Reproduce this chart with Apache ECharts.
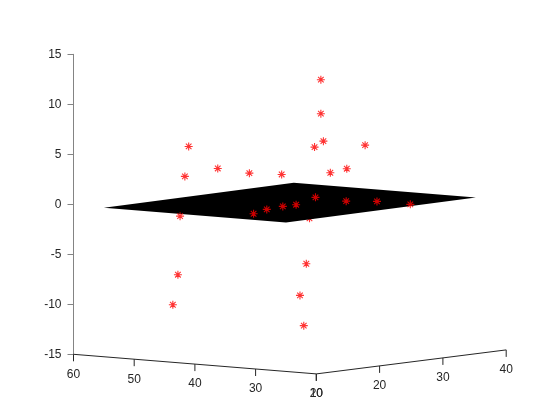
<!DOCTYPE html>
<html>
<head>
<meta charset="utf-8">
<script src="https://cdn.jsdelivr.net/npm/echarts@6/dist/echarts.min.js"></script>
<style>
html, body { margin: 0; background: #fff; }
#chart { width: 560px; height: 420px; }
</style>
</head>
<body>
<div id="chart"></div>
<script>
// Puntos de datos (x = eje derecho del suelo, y = eje izquierdo, z = vertical)
const ptX = [29.9, 29.9, 30.3, 28.9, 27.3, 23.4, 22.8, 23.2, 23.4, 28.5, 26.6, 29.2, 23.0,
             13.9, 18.0, 21.3, 23.4, 30.2, 29.2, 30.9, 30.7, 32.9, 27.6, 21.7, 20.9, 26.6, 27.2];
const ptY = [40, 40, 40, 40, 30, 55, 55, 50, 45, 45, 35, 35, 56,
             34.4, 36.5, 37.3, 37.3, 41.2, 35.1, 31.8, 26.1, 45, 40, 55, 55, 40, 40];
const ptZ = [11.85, 8.45, 5.67, 5.19, 6.0, 4.96, 2.01, 3.02, 2.78, 2.24, 3.05, 3.25, -2.03,
             0, 0, 0, 0, 0, 0, 0, 0, -2.5, -6.37, -7.73, -10.67, -9.46, -12.53];

// Esquinas del plano ajustado
const planeX = [10, 10, 40, 40];
const planeY = [25, 55, 55, 25];
const planeZ = [-0.1, -0.1, 0, 0];

// Marcas de los ejes
const xTicks = [10, 20, 30, 40];
const yTicks = [20, 30, 40, 50, 60];
const zMin = -15, zMax = 15, zStep = 5;

// Vista: proyecta (x, y, z) al plano de la grilla (px a la derecha del eje z, unidades z hacia arriba)
function proj(x, y, z) {
    const t = x - 10, s = 60 - y;
    return [6.33 * t + 6.07 * s, z + 0.08 * t - 0.049 * s];
}

const xLo = Math.min(...planeX), xHi = Math.max(...planeX);
const yLo = Math.min(...planeY), yHi = Math.max(...planeY);
const zPlane = Math.min(...planeZ);

// Separando los puntos tapados por el plano
const front = [], behind = [];
ptX.forEach((x, i) => {
    const p = proj(x, ptY[i], ptZ[i]);
    const hidden = x >= xLo && x <= xHi && ptY[i] >= yLo && ptY[i] <= yHi && ptZ[i] < zPlane;
    (hidden ? behind : front).push(p);
});

const tickData = [];
const tickText = [];
yTicks.forEach(v => { tickData.push(proj(10, v, zMin)); tickText.push(v); });
xTicks.forEach(v => { tickData.push(proj(v, 20, zMin)); tickText.push(v); });

const star = 'path://M5,0L5,10M0,5L10,5M1.5,1.5L8.5,8.5M1.5,8.5L8.5,1.5';
const font = '12px "Liberation Sans", Arial, sans-serif';

let myChart = echarts.init(document.getElementById('chart'));
myChart.setOption({
    animation: false,
    backgroundColor: '#fff',
    grid: { left: 73.5, top: 54.3, width: 440, height: 300 },
    xAxis: { type: 'value', min: 0, max: 440, show: false },
    yAxis: {
        type: 'value',
        min: zMin,
        max: zMax,
        interval: zStep,
        axisLine: { show: true, lineStyle: { color: '#848484', width: 1 } },
        axisTick: { show: true, length: 6, lineStyle: { color: '#848484' } },
        axisLabel: { color: '#262626', fontSize: 12, fontFamily: '"Liberation Sans", Arial', margin: 12 },
        splitLine: { show: false }
    },
    series: [
        {
            type: 'line',
            silent: true,
            clip: false,
            symbol: 'none',
            z: 1,
            lineStyle: { color: '#262626', width: 1 },
            data: [proj(10, 60, zMin), proj(10, 20, zMin), proj(40, 20, zMin)]
        },
        {
            type: 'custom',
            silent: true,
            z: 1,
            data: tickData,
            renderItem: function (params, api) {
                const p = api.coord([api.value(0), api.value(1)]);
                return {
                    type: 'group',
                    children: [
                        { type: 'line', shape: { x1: p[0], y1: p[1], x2: p[0], y2: p[1] + 7 },
                          style: { stroke: '#262626', lineWidth: 1 } },
                        { type: 'text', x: p[0], y: p[1] + 20,
                          style: { text: String(tickText[params.dataIndex]), fill: '#262626', font: font,
                                   align: 'center', verticalAlign: 'middle' } }
                    ]
                };
            }
        },
        {
            type: 'scatter',
            silent: true,
            z: 2,
            symbol: star,
            symbolSize: 8,
            itemStyle: { color: 'rgba(0,0,0,0)', borderColor: '#ff0000', borderWidth: 1.1 },
            data: behind
        },
        {
            type: 'custom',
            silent: true,
            z: 3,
            data: [[0, 0]],
            renderItem: function (params, api) {
                const pts = planeX.map((x, i) => api.coord(proj(x, planeY[i], planeZ[i])));
                return { type: 'polygon', shape: { points: pts }, style: { fill: '#000' } };
            }
        },
        {
            type: 'scatter',
            silent: true,
            z: 4,
            symbol: star,
            symbolSize: 8,
            itemStyle: { color: 'rgba(0,0,0,0)', borderColor: '#ff0000', borderWidth: 1.1 },
            data: front
        }
    ]
});
</script>
</body>
</html>
